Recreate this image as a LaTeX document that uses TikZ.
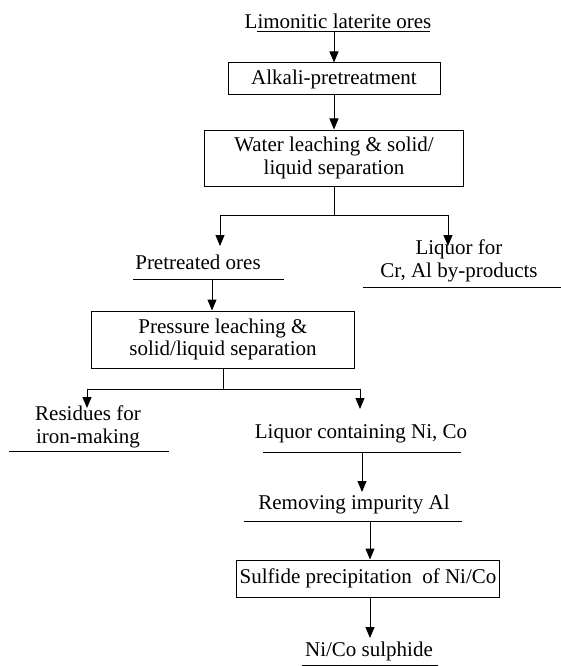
\documentclass[tikz,border=0pt]{standalone}
\usepackage{fontspec}
\setmainfont{Liberation Serif}
\usetikzlibrary{arrows.meta}

\begin{document}
\begin{tikzpicture}[x=1pt, y=-1pt, line width=1pt,
    every node/.style={font=\fontsize{21}{22.5}\selectfont, align=center, inner sep=0pt},
    box/.style={draw, minimum width=#1},
    arr/.style={-{Triangle[width=9pt,length=11pt]}}]
  \useasboundingbox (0,0) rectangle (561,666);

  % Ores and alkali step
  \node (ore) at (338, 21) {Limonitic laterite ores};
  \draw (257, 32) -- (430, 32);
  \node[box=212, minimum height=32] (alk) at (334, 79) {Alkali-pretreatment};
  \node[box=259, minimum height=56] (wat) at (334, 158) {Water leaching \& solid/\\liquid separation};

  \draw[arr] (alk.north |- 0,32) -- (alk.north);
  \draw[arr] (alk.south) -- (wat.north);

  % First split
  \coordinate (s1) at (334, 215);
  \coordinate (t1) at (220, 246);
  \coordinate (t2) at (448, 246);
  \draw (wat.south) -- (s1);
  \draw[arr] (s1) -| (t1);
  \draw[arr] (s1) -| (t2);

  \node (pre) at (198, 262) {Pretreated ores};
  \draw (133, 279) -- (284, 279);
  \node (liq) at (459, 261) {Liquor for\\Cr, Al by-products};
  \draw (363, 287) -- (561, 287);

  % Pressure leaching
  \node[box=263, minimum height=57] (press) at (223, 339.5) {Pressure leaching \&\\solid/liquid separation};
  \coordinate (p1) at (212, 279);
  \draw[arr] (p1) -- (p1 |- press.north);

  % Second split
  \coordinate (s2) at (223, 389);
  \coordinate (t3) at (87, 408);
  \coordinate (t4) at (360, 409);
  \draw (press.south) -- (s2);
  \draw[arr] (s2) -| (t3);
  \draw[arr] (s2) -| (t4);

  \node (res) at (88, 427) {Residues for\\iron-making};
  \draw (9, 451) -- (169, 451);
  \node (lnc) at (361, 434) {Liquor containing Ni, Co};
  \draw (263, 452) -- (461, 452);

  % Ni/Co line
  \node (rem) at (354, 504) {Removing impurity Al};
  \draw (244, 521) -- (462, 521);
  \node[box=263, minimum height=37] (sul) at (368, 578.5) {Sulfide precipitation\ \ of Ni/Co};
  \node (nic) at (369, 651) {Ni/Co sulphide};
  \draw (302, 665) -- (438, 665);

  \coordinate (p2) at (362, 452);
  \coordinate (p3) at (362, 492);
  \draw[arr] (p2) -- (p3);
  \coordinate (p4) at (370, 521);
  \draw[arr] (p4) -- (p4 |- sul.north);
  \coordinate (p5) at (370, 638);
  \draw[arr] (p5 |- sul.south) -- (p5);

\end{tikzpicture}
\end{document}
